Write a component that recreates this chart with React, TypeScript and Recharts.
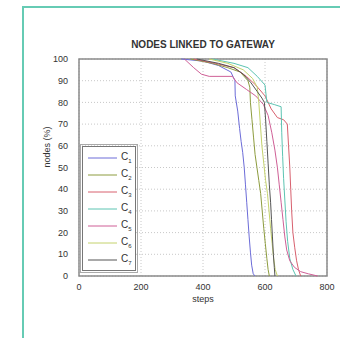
import { LineChart, Line, XAxis, YAxis, CartesianGrid, Legend, ReferenceArea } from "recharts";

// steps / nodes (%) for each configuration
const c1Steps = [330, 400, 450, 490, 503, 504, 512, 518, 523, 528, 533, 537, 541, 545, 549, 553, 557, 562, 568];
const c1Nodes = [100, 99, 97, 94, 90, 83, 76, 68, 62, 57, 50, 42, 34, 26, 18, 11, 5, 1, 0];

const c2Steps = [360, 430, 480, 520, 545, 551, 553, 558, 563, 568, 574, 580, 586, 591, 596, 601, 606, 610, 614];
const c2Nodes = [100, 98, 96, 94, 90, 87, 80, 72, 64, 56, 50, 44, 38, 30, 22, 15, 8, 3, 0];

const c3Steps = [370, 440, 500, 540, 570, 600, 620, 640, 660, 672, 676, 680, 683, 686, 690, 696, 702, 708, 715];
const c3Nodes = [100, 98, 96, 92, 88, 83, 77, 73, 72, 70, 60, 50, 40, 30, 20, 13, 7, 3, 0];

const c4Steps = [430, 500, 545, 575, 600, 606, 630, 652, 654, 657, 660, 664, 668, 673, 680, 690, 700];
const c4Nodes = [100, 98, 96, 92, 88, 80, 79, 78, 66, 55, 45, 35, 25, 16, 8, 3, 0];

const c5Steps = [340, 370, 395, 420, 495, 510, 540, 570, 595, 610, 622, 632, 640, 646, 652, 658, 664, 670, 680, 695, 715, 740, 770];
const c5Nodes = [100, 96, 93, 92, 92, 89, 86, 83, 79, 74, 66, 58, 50, 42, 34, 26, 18, 12, 7, 4, 2, 1, 0];

const c6Steps = [420, 480, 530, 560, 575, 580, 585, 590, 596, 602, 608, 613, 618, 623, 628, 633, 640];
const c6Nodes = [100, 98, 95, 91, 87, 80, 70, 60, 52, 44, 38, 30, 22, 15, 8, 3, 0];

const c7Steps = [380, 450, 500, 530, 555, 575, 590, 598, 602, 606, 610, 614, 618, 621, 624, 627, 630, 632];
const c7Nodes = [100, 98, 96, 93, 89, 85, 82, 80, 72, 62, 52, 42, 34, 26, 18, 10, 4, 0];

const xTicks = [0, 200, 400, 600, 800];
const yTicks = [0, 10, 20, 30, 40, 50, 60, 70, 80, 90, 100];

const series = [
  { name: "C1", color: "#6c6cd8", steps: c1Steps, nodes: c1Nodes },
  { name: "C2", color: "#8d9c3e", steps: c2Steps, nodes: c2Nodes },
  { name: "C3", color: "#d8606e", steps: c3Steps, nodes: c3Nodes },
  { name: "C4", color: "#5cc4b2", steps: c4Steps, nodes: c4Nodes },
  { name: "C5", color: "#cf5f96", steps: c5Steps, nodes: c5Nodes },
  { name: "C6", color: "#c4d26c", steps: c6Steps, nodes: c6Nodes },
  { name: "C7", color: "#555555", steps: c7Steps, nodes: c7Nodes },
];

const font = "'Liberation Sans', Arial, sans-serif";

function LegendBox(props: any) {
  const items = props.payload || [];
  return (
    <div
      style={{
        width: 52,
        padding: "2px 0",
        background: "#fff",
        border: "1px solid #777",
        outline: "1px solid #aaa",
        outlineOffset: 1,
        fontFamily: font,
        fontSize: 10,
        color: "#333",
      }}
    >
      {items.map((p: any) => (
        <div key={p.value} style={{ display: "flex", alignItems: "center", height: 17 }}>
          <svg width={33} height={4} style={{ marginLeft: 5 }}>
            <line x1={0} x2={29} y1={2} y2={2} stroke={p.color} strokeWidth={1} />
          </svg>
          <span>
            C<sub style={{ fontSize: 6 }}>{String(p.value).slice(1)}</sub>
          </span>
        </div>
      ))}
    </div>
  );
}

export default function App() {
  return (
    <div style={{ position: "absolute", left: 0, top: 0, width: 340, height: 338, background: "#fff", overflow: "hidden" }}>
      <div
        style={{
          position: "absolute",
          left: 22,
          top: 6,
          width: 316,
          height: 330,
          borderTop: "2px solid #66cbb4",
          borderLeft: "2px solid #66cbb4",
        }}
      />
      <div
        style={{
          position: "absolute",
          left: 79,
          top: 39,
          width: 248,
          textAlign: "center",
          fontFamily: font,
          fontSize: 10,
          fontWeight: "bold",
          color: "#333",
          lineHeight: "12px",
        }}
      >
        NODES LINKED TO GATEWAY
      </div>
      <LineChart width={340} height={338} margin={{ top: 59, right: 13, bottom: 32, left: 0 }}>
        <CartesianGrid stroke="#c8c8c8" strokeDasharray="1 2" horizontalValues={yTicks} verticalValues={xTicks} />
        <XAxis
          dataKey="step"
          type="number"
          domain={[0, 800]}
          ticks={xTicks}
          allowDuplicatedCategory={false}
          tickLine={false}
          axisLine={false}
          tick={{ fontSize: 9, fill: "#333", fontFamily: font }}
          tickMargin={2}
          label={{ value: "steps", position: "insideBottom", offset: 4, fontSize: 9, fill: "#333", fontFamily: font }}
        />
        <YAxis
          type="number"
          domain={[0, 100]}
          ticks={yTicks}
          width={79}
          tickLine={false}
          axisLine={false}
          interval={0}
          tick={{ fontSize: 9, fill: "#333", fontFamily: font }}
          tickMargin={5}
          label={{ value: "nodes (%)", angle: -90, position: "insideLeft", offset: 47, fontSize: 9, fill: "#333", fontFamily: font }}
        />
        <ReferenceArea x1={0} x2={800} y1={0} y2={100} fill="none" stroke="#8a8a8a" strokeWidth={1.5} />
        {series.map((s) => (
          <Line
            key={s.name}
            name={s.name}
            data={s.steps.map((step, i) => ({ step, v: s.nodes[i] }))}
            dataKey="v"
            type="linear"
            stroke={s.color}
            strokeWidth={1}
            dot={false}
            isAnimationActive={false}
          />
        ))}
        <Legend
          layout="vertical"
          align="center"
          verticalAlign="middle"
          content={<LegendBox />}
          wrapperStyle={{ left: 82, top: 146, width: 56, height: 125 }}
        />
      </LineChart>
    </div>
  );
}
